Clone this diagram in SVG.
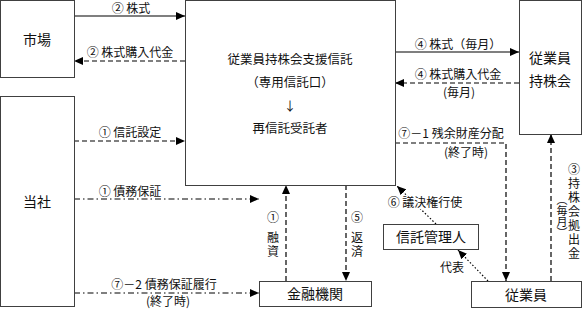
<svg xmlns="http://www.w3.org/2000/svg" width="583" height="309" viewBox="0 0 583 309">
<defs>
<marker id="arr" viewBox="0 0 9 8" refX="9" refY="4" markerWidth="9" markerHeight="8" markerUnits="userSpaceOnUse" orient="auto">
<path d="M0,0 L9,4 L0,8 z" fill="#000"/>
</marker>
<style>
.box{fill:#fff;stroke:#404040;stroke-width:1}
.bt{font-family:"Noto Sans CJK JP","Noto Sans",sans-serif;font-size:14px;fill:#111;text-anchor:middle}
.ct{font-family:"Noto Sans CJK JP","Noto Sans",sans-serif;font-size:12.5px;fill:#111;text-anchor:middle}
.lb{font-family:"Noto Sans CJK JP","Noto Sans",sans-serif;font-size:12px;fill:#111;text-anchor:middle}
.vt{font-family:"Noto Sans CJK JP","Noto Sans",sans-serif;font-size:12px;fill:#111;text-anchor:start;writing-mode:vertical-rl;dominant-baseline:central;letter-spacing:2px}
.solid{fill:none;stroke:#000;stroke-width:1.2}
.dash{fill:none;stroke:#000;stroke-width:1.2;stroke-dasharray:5,3}
.dashdot{fill:none;stroke:#000;stroke-width:1.2;stroke-dasharray:6,3,1.5,3}
.dot{fill:none;stroke:#000;stroke-width:1.2;stroke-dasharray:1.5,2}
</style>
</defs>

<g id="connectors">
<line class="solid" x1="74" y1="16" x2="185" y2="16" marker-end="url(#arr)"/>
<line class="dash" x1="185" y1="61" x2="74" y2="61" marker-end="url(#arr)"/>
<line class="dash" x1="74" y1="141" x2="185" y2="141" marker-end="url(#arr)"/>
<line class="dashdot" x1="74" y1="199" x2="259" y2="199" marker-end="url(#arr)"/>
<line class="dashdot" x1="74" y1="293" x2="259" y2="293" marker-end="url(#arr)"/>
<line class="dash" x1="286" y1="281" x2="286" y2="185" marker-end="url(#arr)"/>
<line class="dash" x1="346" y1="185" x2="346" y2="281" marker-end="url(#arr)"/>
<line class="solid" x1="395" y1="52" x2="519" y2="52" marker-end="url(#arr)"/>
<line class="dash" x1="519" y1="83" x2="395" y2="83" marker-end="url(#arr)"/>
<polyline class="dash" points="395,143 506,143 506,281" marker-end="url(#arr)"/>
<line class="dash" x1="551" y1="281" x2="551" y2="134" marker-end="url(#arr)"/>
<line class="dot" x1="436" y1="224" x2="397" y2="186" marker-end="url(#arr)"/>
<line class="dot" x1="488" y1="281" x2="458" y2="250" marker-end="url(#arr)"/>

<text class="lb" x="131" y="13">② 株式</text>
<text class="lb" x="130" y="57">② 株式購入代金</text>
<text class="lb" x="130" y="137">① 信託設定</text>
<text class="lb" x="130" y="196">① 債務保証</text>
<text class="lb" x="164" y="289">⑦－2 債務保証履行</text>
<text class="lb" x="168" y="306">(終了時)</text>
<text class="lb" x="273" y="222">①</text>
<text class="vt" x="273" y="231">融資</text>
<text class="lb" x="357" y="222">⑤</text>
<text class="vt" x="357" y="231">返済</text>
<text class="lb" x="458" y="49">④ 株式（毎月）</text>
<text class="lb" x="458" y="79">④ 株式購入代金</text>
<text class="lb" x="459" y="97">(毎月)</text>
<text class="lb" x="451" y="138">⑦－1 残余財産分配</text>
<text class="lb" x="466" y="157">(終了時)</text>
<text class="vt" x="574" y="163">③持株会拠出金</text>
<text class="vt" x="562" y="194" style="font-size:11px;letter-spacing:0">（毎月）</text>
<rect x="386" y="196" width="78" height="13" fill="#fff"/>
<text class="lb" x="425" y="207">⑥ 議決権行使</text>
<text class="lb" x="452" y="272">代表</text>
</g>

<g id="n-market">
<rect class="box" x="0.5" y="0.5" width="74" height="77"/>
<text class="bt" x="37" y="45">市場</text>
</g>
<g id="n-company">
<rect class="box" x="0.5" y="96.5" width="74" height="210"/>
<text class="bt" x="37" y="207">当社</text>
</g>
<g id="n-trust">
<rect class="box" x="185.5" y="0.5" width="210" height="185"/>
<text class="ct" x="290" y="64">従業員持株会支援信託</text>
<text class="ct" x="290" y="87">（専用信託口）</text>
<text class="ct" x="290" y="111">↓</text>
<text class="ct" x="290" y="133">再信託受託者</text>
</g>
<g id="n-esop">
<rect class="box" x="519.5" y="0.5" width="62" height="134"/>
<text class="bt" x="550" y="63">従業員</text>
<text class="bt" x="550" y="86">持株会</text>
</g>
<g id="n-bank">
<rect class="box" x="259.5" y="281.5" width="112" height="25"/>
<text class="bt" x="315" y="299">金融機関</text>
</g>
<g id="n-admin">
<rect class="box" x="383.5" y="224.5" width="95" height="25"/>
<text class="bt" x="431" y="242">信託管理人</text>
</g>
<g id="n-employee">
<rect class="box" x="471.5" y="281.5" width="110" height="26"/>
<text class="bt" x="526" y="300">従業員</text>
</g>
</svg>
